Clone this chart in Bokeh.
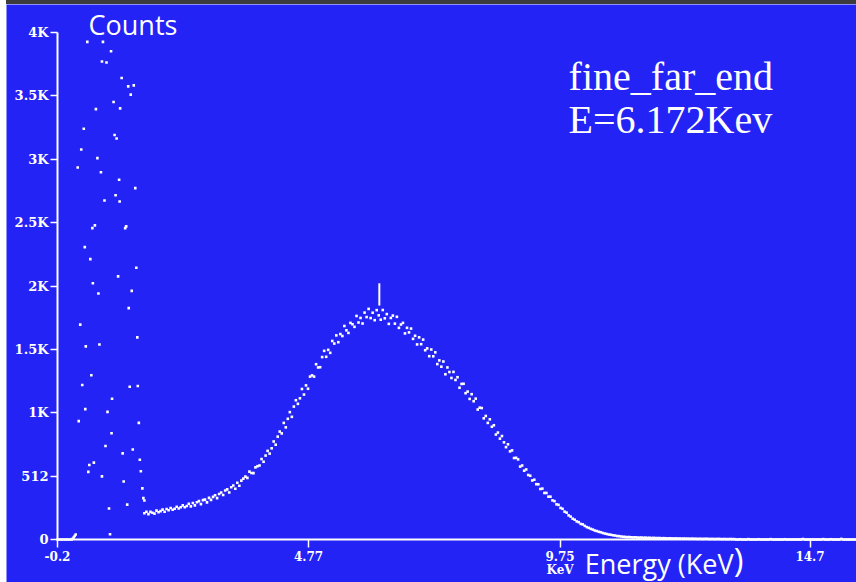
import numpy as np
from bokeh.plotting import figure
from bokeh.models import FixedTicker, Label, Range1d, Spacer
from bokeh.layouts import row, column
from bokeh.embed import file_html
from bokeh.resources import INLINE

BLUE = "#2323F5"
WHITE = "#FFFFFF"

# ---- axis ticks (counts use binary kilo: 1K = 1024) ----
y_ticks = [0, 512, 1024, 1536, 2048, 2560, 3072, 3584, 4096]
y_tick_labels = ["0", "512", "1K", "1.5K", "2K", "2.5K", "3K", "3.5K", "4K"]
x_ticks = [-0.2, 4.77, 9.75, 14.7]
x_tick_labels = ["-0.2", "4.77", "9.75", "14.7"]
E_MIN, E_MAX = -0.2, 15.62

# ---- lowest channels (below the noise edge) ----
low_energy = [-0.20, -0.16, -0.12, -0.08, -0.04, 0.00, 0.04, 0.08, 0.10, 0.12, 0.14, 0.16]
low_counts = [0, 0, 0, 0, 0, 0, 0, 0, 6, 16, 28, 40]

# ---- electronic noise region, sparse channels ----
noise_energy = [0.39, 0.70, 0.86, 0.68, 0.77, 1.07, 1.20, 1.31, 1.25, 0.91,
                1.04, 0.56, 0.32, 0.93, 0.97, 0.27, 0.59, 0.20, 0.66, 1.02,
                1.34, 0.95, 1.03, 0.73, 0.54, 0.49, 1.16, 1.14, 0.34, 0.45,
                1.36, 1.00, 0.50, 0.61, 1.27, 1.21, 0.25, 1.38, 0.36, 0.63,
                0.47, 0.29, 1.23, 1.39, 0.88, 0.35, 0.79, 0.22, 1.41, 0.87,
                0.75, 1.29, 1.09, 1.43, 0.43, 0.52, 0.41, 1.45, 0.68, 1.11,
                1.48, 1.50, 1.52, 0.82, 1.18, 0.84]
noise_counts = [4020, 4020, 3945, 3862, 3854, 3728, 3661, 3669, 3594, 3535,
                3483, 3477, 3318, 3268, 3240, 3151, 3081, 3006, 2967, 2906,
                2839, 2781, 2731, 2739, 2538, 2516, 2530, 2516, 2362, 2265,
                2196, 2126, 2070, 1987, 2009, 1869, 1736, 1633, 1560, 1575,
                1327, 1248, 1234, 1240, 1137, 1053, 1031, 956, 942, 858,
                755, 727, 696, 644, 602, 621, 546, 552, 510, 469,
                413, 334, 315, 251, 282, 42]

# ---- main spectrum: channel calibration and counts ----
CH0_KEV = 1.52
CH_STEP_KEV = 0.04
spectrum_counts = [
    212, 224, 205, 223, 216, 209, 233, 220, 229, 241,
    224, 247, 236, 254, 240, 249, 265, 250, 261, 276,
    260, 271, 289, 268, 295, 276, 301, 310, 286, 318,
    322, 300, 336, 320, 344, 358, 334, 368, 380, 360,
    396, 405, 380, 422, 436, 410, 458, 434, 476, 492,
    508, 498, 548, 537, 536, 583, 592, 598, 650, 628,
    678, 716, 694, 737, 792, 766, 831, 872, 857, 942,
    906, 975, 1029, 991, 1074, 1125, 1096, 1141, 1216, 1171,
    1245, 1218, 1316, 1326, 1316, 1416, 1390, 1392, 1474, 1524,
    1476, 1532, 1508, 1604, 1583, 1649, 1594, 1660, 1644, 1725,
    1690, 1669, 1750, 1739, 1718, 1806, 1753, 1790, 1745, 1833,
    1797, 1863, 1789, 1832, 1772, 1853, 1811, 1776, 1854, 1787,
    1821, 1742, 1790, 1809, 1744, 1799, 1710, 1737, 1750, 1665,
    1710, 1673, 1704, 1621, 1646, 1576, 1633, 1578, 1615, 1529,
    1544, 1481, 1535, 1480, 1512, 1417, 1447, 1396, 1438, 1335,
    1390, 1353, 1305, 1354, 1289, 1311, 1226, 1257, 1258, 1182,
    1195, 1136, 1174, 1117, 1138, 1050, 1065, 1062, 979, 998,
    942, 971, 911, 923, 848, 864, 815, 836, 785, 746,
    769, 712, 720, 658, 660, 647, 589, 598, 556, 566,
    521, 515, 477, 483, 447, 446, 408, 411, 376, 376,
    346, 346, 316, 310, 284, 280, 255, 248, 225, 217,
    195, 185, 168, 160, 146, 140, 126, 122, 110, 100,
    94, 86, 80, 72, 68, 62, 58, 52, 48, 44,
    40, 38, 34, 32, 28, 27, 24, 22, 21, 19,
    20, 18, 17, 18, 16, 15, 16, 14, 15, 13,
    14, 12, 13, 12, 11, 12, 10, 11, 10, 9,
    10, 9, 8, 9, 8, 8, 7, 8, 7, 7,
    6, 7, 6, 6, 5, 6, 5, 5, 6, 5,
    4, 5, 4, 4, 5, 4, 3, 4, 3, 3,
    4, 3, 3, 0, 0, 2, 0, 0, 0, 3,
    0, 0, 0, 0, 2, 0, 0, 0, 0, 0,
    3, 0, 0, 0, 0, 0, 0, 2, 0, 0,
    0, 0, 0, 0, 0, 0, 4, 0, 0, 0,
    0, 0, 0, 0, 0, 0, 3, 0, 0, 0,
    2, 0, 0, 0, 0, 5, 0, 0, 0, 0,
    0, 0, 0,
]
spectrum_energy = CH0_KEV + CH_STEP_KEV * np.arange(len(spectrum_counts))

# ---- peak marker ----
peak_energy = 6.172
marker_low, marker_high = 1890, 2070
run_name = "fine_far_end"

# plot area spans the whole canvas; both axes are pinned to data positions
p = figure(
    width=850, height=578,
    x_range=Range1d(-1.21, E_MAX), y_range=Range1d(-347.4, 4322.3),
    output_backend="svg", toolbar_location=None,
    min_border_left=0, min_border_right=0, min_border_top=0, min_border_bottom=0,
    background_fill_color=BLUE, border_fill_color=BLUE, outline_line_color=None,
)
p.grid.visible = False

# spectrum dots
dot = dict(marker="square", size=2.6, fill_color=WHITE, line_color=None)
p.scatter(low_energy, low_counts, **dot)
p.scatter(noise_energy, noise_counts, **dot)
p.scatter(spectrum_energy, spectrum_counts, **dot)

# peak cursor
p.segment(x0=[peak_energy], y0=[marker_low], x1=[peak_energy], y1=[marker_high],
          line_color=WHITE, line_width=2)

# axes
for ax in (p.xaxis[0], p.yaxis[0]):
    ax.axis_line_color = WHITE
    ax.axis_line_width = 2
    ax.major_tick_line_color = WHITE
    ax.major_tick_line_width = 1.5
    ax.major_tick_in = 0
    ax.minor_tick_line_color = None
    ax.major_label_text_color = WHITE
    ax.major_label_text_font = "DejaVu Serif"
    ax.major_label_text_font_style = "bold"

p.yaxis.fixed_location = E_MIN
p.yaxis.ticker = FixedTicker(ticks=y_ticks)
p.yaxis.major_label_overrides = dict(zip(y_ticks, y_tick_labels))
p.yaxis.bounds = (0, 4096)
p.yaxis.major_tick_out = 7
p.yaxis.major_label_standoff = 2
p.yaxis.major_label_text_font_size = "13px"

p.xaxis.fixed_location = 0
p.xaxis.ticker = FixedTicker(ticks=x_ticks)
p.xaxis.major_label_overrides = dict(zip(x_ticks, x_tick_labels))
p.xaxis.bounds = (E_MIN, E_MAX)
p.xaxis.major_tick_out = 8
p.xaxis.major_label_standoff = 3
p.xaxis.major_label_text_font_size = "12px"

# texts
p.add_layout(Label(x=0.414, y=4015, text="Counts", text_color=WHITE,
                   text_font="Open Sans", text_font_size="27px"))
p.add_layout(Label(x=9.92, y=3562, text=run_name, text_color=WHITE,
                   text_font="Liberation Serif", text_font_size="40px"))
p.add_layout(Label(x=9.92, y=3215, text=f"E={peak_energy}Kev", text_color=WHITE,
                   text_font="Liberation Serif", text_font_size="40px"))
p.add_layout(Label(x=9.75, y=-307, text="KeV", text_color=WHITE, text_align="center",
                   text_font="DejaVu Serif", text_font_style="bold", text_font_size="12px"))
p.add_layout(Label(x=10.24, y=-342, text="Energy (KeV", text_color=WHITE,
                   text_font="Open Sans", text_font_size="27px"))
p.add_layout(Label(x=13.19, y=-340, text=")", text_color=WHITE,
                   text_font="Open Sans", text_font_size="33px"))

top_bar = Spacer(width=850, height=4, styles={"background-color": "#3c3c3c"})
left_pad = Spacer(width=6, height=582)
page = row(left_pad, column(top_bar, p, spacing=0), spacing=0)

open("out.html", "w").write(file_html(page, INLINE))
